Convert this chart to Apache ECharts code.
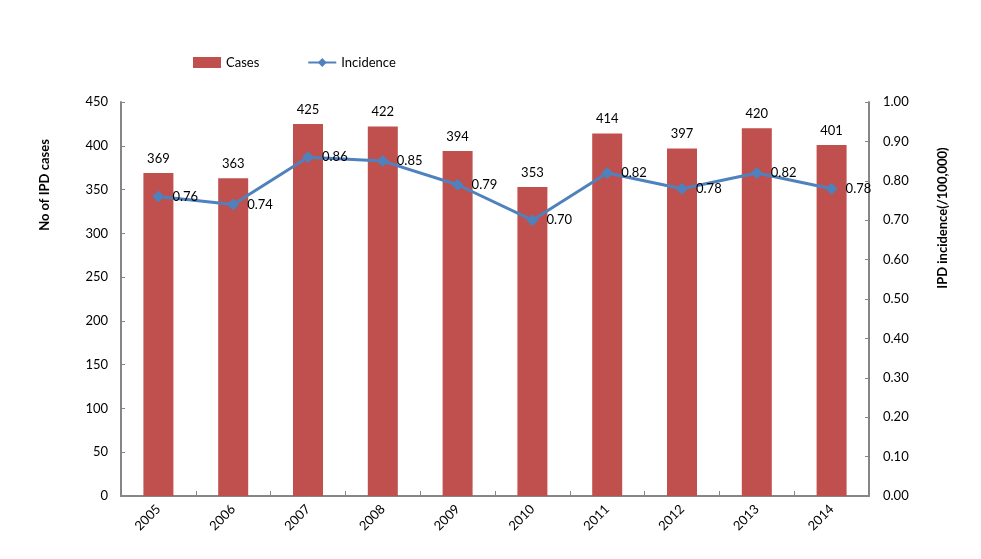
<!DOCTYPE html>
<html>
<head>
<meta charset="utf-8">
<script src="https://cdn.jsdelivr.net/npm/echarts@6/dist/echarts.min.js"></script>
<style>html,body{margin:0;padding:0;background:#fff}#c{width:981px;height:559px}</style>
</head>
<body>
<div id="c"></div>
<script>
var years = ['2005','2006','2007','2008','2009','2010','2011','2012','2013','2014'];
var cases = [369,363,425,422,394,353,414,397,420,401];
var incidence = [0.76,0.74,0.86,0.85,0.79,0.70,0.82,0.78,0.82,0.78];
var leftTicks = {min:0, max:450, interval:50};
var rightTicks = {min:0, max:1, interval:0.1};

var FONT = 'Lato';
var chart = echarts.init(document.getElementById('c'));
var axisLineStyle = {color:'#868686', width:2};
chart.setOption({
  animation:false,
  textStyle:{fontFamily:FONT},
  legend:{
    left:193, top:56, padding:0, itemGap:48, itemWidth:28, itemHeight:11,
    textStyle:{fontFamily:FONT, fontSize:13, color:'#000'},
    data:[{name:'Cases', icon:'rect'},{name:'Incidence'}]
  },
  grid:{left:121, right:112, top:102, bottom:63, containLabel:false},
  xAxis:{
    type:'category', data:years,
    axisLine:{lineStyle:axisLineStyle},
    axisTick:{show:true, inside:true, length:5, alignWithLabel:false, lineStyle:{color:'#868686'}},
    axisLabel:{rotate:45, color:'#000', fontSize:13, fontFamily:FONT, margin:11}
  },
  yAxis:[{
    type:'value', min:leftTicks.min, max:leftTicks.max, interval:leftTicks.interval,
    axisLine:{show:true, lineStyle:axisLineStyle},
    axisTick:{show:true, inside:true, length:4, lineStyle:{color:'#868686'}},
    splitLine:{show:false},
    axisLabel:{color:'#000', fontSize:13, fontFamily:FONT, margin:13}
  },{
    type:'value', min:rightTicks.min, max:rightTicks.max, interval:rightTicks.interval,
    position:'right',
    axisLine:{show:true, lineStyle:axisLineStyle},
    axisTick:{show:true, inside:true, length:4, lineStyle:{color:'#868686'}},
    splitLine:{show:false},
    axisLabel:{color:'#000', fontSize:13, fontFamily:FONT, margin:14, formatter:function(v){return v.toFixed(2);}}
  }],
  graphic:[{
    type:'text', x:45, y:185, rotation:Math.PI/2,
    style:{text:'No of IPD cases', fontFamily:FONT, fontSize:13, fontWeight:'bold', fill:'#000', align:'center', verticalAlign:'middle'}
  },{
    type:'text', x:943, y:218, rotation:Math.PI/2,
    style:{text:'IPD incidence(/100,000)', fontFamily:FONT, fontSize:13, fontWeight:'bold', fill:'#000', align:'center', verticalAlign:'middle'}
  }],
  series:[{
    name:'Cases', type:'bar', data:cases, yAxisIndex:0, barWidth:30,
    itemStyle:{color:'#C0504D'},
    label:{show:true, position:'top', distance:8, color:'#000', fontSize:13, fontFamily:FONT}
  },{
    name:'Incidence', type:'line', data:incidence, yAxisIndex:1,
    symbol:'diamond', symbolSize:12,
    lineStyle:{color:'#4F81BD', width:3},
    itemStyle:{color:'#4F81BD'},
    label:{show:true, position:'right', distance:8, color:'#000', fontSize:13, fontFamily:FONT, formatter:function(p){return p.value.toFixed(2);}}
  }]
});
</script>
</body>
</html>
